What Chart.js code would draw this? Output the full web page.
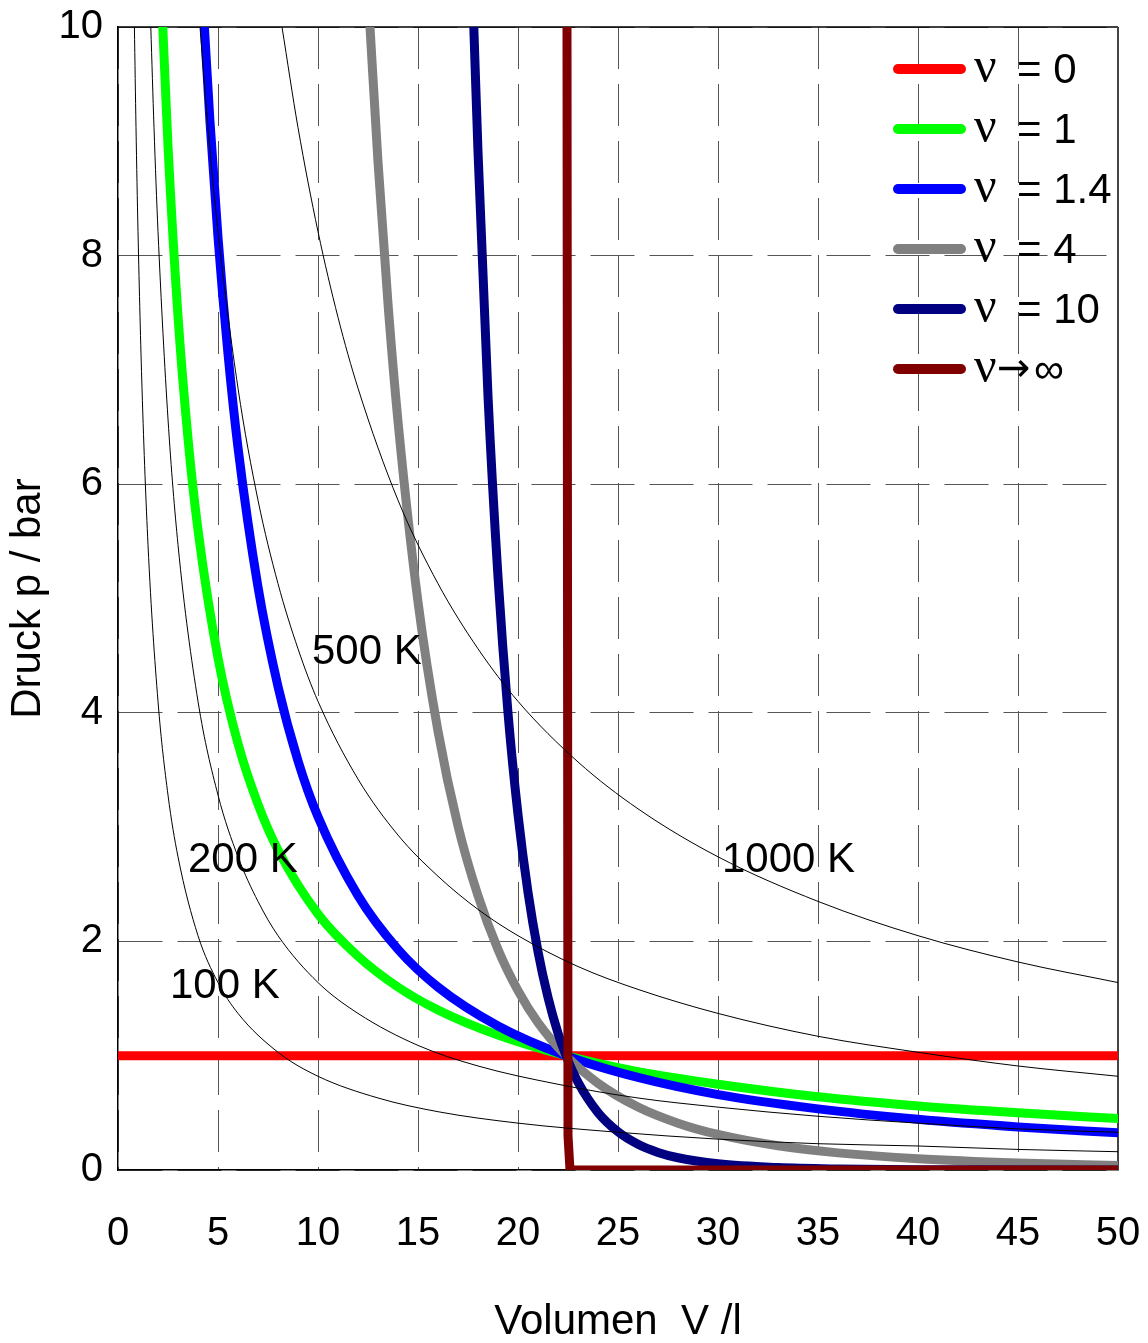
<!DOCTYPE html>
<html>
<head>
<meta charset="utf-8">
<script src="https://cdn.jsdelivr.net/npm/chart.js@4.4.1/dist/chart.umd.min.js"></script>
<style>
  html, body { margin: 0; padding: 0; background: #fff; }
</style>
</head>
<body>
<canvas id="myChart" width="1148" height="1343"></canvas>
<script>
// volumes in l, pressures in bar

// polytropes p * V^nu = const, through (22.4 l, 1 bar)
var nu0V = [0, 50];
var nu0P = [1, 1];

var nu1V = [2.24, 2.5, 3, 3.5, 4, 5, 6, 7, 8, 10, 12, 14, 16, 19, 22.4, 26, 30, 35, 40, 45, 50];
var nu1P = [10.0, 8.96, 7.47, 6.40, 5.60, 4.48, 3.73, 3.20, 2.80, 2.24, 1.87, 1.60, 1.40, 1.18, 1.00, 0.86, 0.75, 0.64, 0.56, 0.50, 0.45];

var nu14V = [4.32, 4.6, 5, 5.5, 6, 7, 8, 9, 10, 12, 14, 16, 19, 22.4, 26, 30, 35, 40, 45, 50];
var nu14P = [10.0, 9.17, 8.16, 7.14, 6.32, 5.10, 4.23, 3.58, 3.09, 2.40, 1.93, 1.60, 1.26, 1.00, 0.81, 0.66, 0.535, 0.444, 0.377, 0.325];

var nu4V = [12.6, 13, 13.5, 14, 15, 16, 17, 18, 19, 20, 21, 22.4, 24, 26, 28, 30, 33, 36, 40, 45, 50];
var nu4P = [10.0, 8.82, 7.58, 6.55, 4.97, 3.84, 3.01, 2.40, 1.93, 1.57, 1.29, 1.00, 0.759, 0.551, 0.41, 0.311, 0.212, 0.150, 0.098, 0.061, 0.040];

var nu10V = [17.79, 18, 18.5, 19, 19.5, 20, 20.5, 21, 21.5, 22, 22.4, 23, 24, 25, 26, 27, 28, 30, 33, 36, 40, 50];
var nu10P = [10.0, 8.91, 6.77, 5.19, 4.00, 3.11, 2.43, 1.91, 1.51, 1.197, 1.00, 0.768, 0.502, 0.334, 0.225, 0.154, 0.107, 0.054, 0.021, 0.0087, 0.003, 0.0003];

var nuInfV = [22.45, 22.5, 22.6, 50];
var nuInfP = [10, 0.3, 0, 0];

// isotherms
var iso100V = [0.82, 0.9, 1, 1.2, 1.5, 2, 2.5, 3, 4, 5, 6, 8, 10, 13, 16, 20, 25, 30, 35, 40, 45, 50];
var iso100P = [10.0, 9.12, 8.21, 6.84, 5.47, 4.10, 3.28, 2.74, 2.05, 1.64, 1.37, 1.03, 0.82, 0.63, 0.51, 0.41, 0.33, 0.27, 0.23, 0.21, 0.18, 0.16];

var iso200V = [1.64, 1.8, 2, 2.5, 3, 4, 5, 6, 7, 8, 10, 12, 15, 18, 22, 26, 30, 35, 40, 45, 50];
var iso200P = [10.0, 9.12, 8.21, 6.57, 5.47, 4.10, 3.28, 2.74, 2.35, 2.05, 1.64, 1.37, 1.09, 0.91, 0.75, 0.63, 0.55, 0.47, 0.41, 0.36, 0.33];

var iso500V = [4.1, 4.5, 5, 6, 7, 8, 9, 10, 12, 14, 16, 18, 20, 23, 26, 30, 35, 40, 45, 50];
var iso500P = [10.0, 9.12, 8.21, 6.84, 5.86, 5.13, 4.56, 4.10, 3.42, 2.93, 2.57, 2.28, 2.05, 1.78, 1.58, 1.37, 1.17, 1.03, 0.91, 0.82];

var iso1000V = [8.2, 9, 10, 11, 12, 14, 16, 18, 20, 23, 26, 30, 35, 40, 45, 50];
var iso1000P = [10.0, 9.12, 8.21, 7.46, 6.84, 5.86, 5.13, 4.56, 4.10, 3.57, 3.16, 2.74, 2.35, 2.05, 1.82, 1.64];

var legendLabels = ["\u03bd  = 0", "\u03bd  = 1", "\u03bd  = 1.4", "\u03bd  = 4", "\u03bd  = 10", "\u03bd\u2192\u221e"];
var isoLabels = ["100 K", "200 K", "500 K", "1000 K"];

var FONT = '"Liberation Sans", Arial, sans-serif';
var SERIF = '"Liberation Serif", "Times New Roman", serif';

function pts(vs, ps) {
  var out = [];
  for (var i = 0; i < vs.length; i++) out.push({ x: vs[i], y: ps[i] });
  return out;
}

function thick(label, vs, ps, color, order, straight) {
  return {
    label: label,
    data: pts(vs, ps),
    borderColor: color,
    backgroundColor: color,
    borderWidth: 9,
    borderCapStyle: "round",
    borderJoinStyle: "round",
    pointRadius: 0,
    cubicInterpolationMode: straight ? "default" : "monotone",
    tension: 0,
    order: order,
    inLegend: true
  };
}

function thin(label, vs, ps) {
  return {
    label: label,
    data: pts(vs, ps),
    borderColor: "#000",
    borderWidth: 1,
    pointRadius: 0,
    cubicInterpolationMode: "monotone",
    order: 0,
    inLegend: false
  };
}

// frame on top and right, legend and curve labels
var framePlugin = {
  id: "frame",
  beforeDatasetsDraw: function (chart) {
    var a = chart.chartArea, ctx = chart.ctx;
    ctx.save();
    ctx.lineWidth = 1.5;
    ctx.strokeStyle = "#000";
    ctx.beginPath();
    ctx.moveTo(a.left, a.top);
    ctx.lineTo(a.right, a.top);
    ctx.stroke();
    ctx.strokeStyle = "#444";
    ctx.lineWidth = 2;
    ctx.beginPath();
    ctx.moveTo(a.right, a.top);
    ctx.lineTo(a.right, a.bottom);
    ctx.stroke();
    ctx.restore();
  },
  afterDatasetsDraw: function (chart) {
    var ctx = chart.ctx;
    var xs = chart.scales.x, ys = chart.scales.y;
    ctx.save();
    ctx.textBaseline = "middle";
    ctx.textAlign = "left";
    ctx.fillStyle = "#000";

    // legend
    var items = chart.data.datasets.filter(function (d) { return d.inLegend; });
    items.forEach(function (d, i) {
      var y = 69 + i * 60;
      ctx.strokeStyle = d.borderColor;
      ctx.lineWidth = 10;
      ctx.lineCap = "round";
      ctx.beginPath();
      ctx.moveTo(898, y);
      ctx.lineTo(961, y);
      ctx.stroke();
      var txt = legendLabels[i];
      ctx.font = "50px " + SERIF;
      ctx.fillText(txt.charAt(0), 974, y);
      var rest = txt.slice(1);
      if (rest.charAt(0) === "\u2192") {
        ctx.font = "40px DejaVu Sans";
        ctx.fillText("\u2192", 997, y + 2);
        ctx.font = "42px " + FONT;
        ctx.fillText(rest.slice(1), 1034, y + 2);
      } else {
        ctx.font = "42px " + FONT;
        ctx.fillText(rest.trim(), 1017, y + 2);
      }
    });

    // isotherm labels
    ctx.font = "42px " + FONT;
    var at = [[2.6, 1.62], [3.5, 2.73], [9.7, 4.55], [30.2, 2.73]];
    isoLabels.forEach(function (t, i) {
      ctx.fillText(t, xs.getPixelForValue(at[i][0]), ys.getPixelForValue(at[i][1]) + 2);
    });
    ctx.restore();
  }
};

var ctx = document.getElementById("myChart").getContext("2d");
var chart = new Chart(ctx, {
  type: "line",
  data: {
    datasets: [
      thick("nu = 0", nu0V, nu0P, "#ff0000", 6, true),
      thick("nu = 1", nu1V, nu1P, "#00ff00", 5),
      thick("nu = 1.4", nu14V, nu14P, "#0000ff", 4),
      thick("nu = 4", nu4V, nu4P, "#808080", 3),
      thick("nu = 10", nu10V, nu10P, "#000080", 2),
      thick("nu -> inf", nuInfV, nuInfP, "#800000", 1, true),
      thin("100 K", iso100V, iso100P),
      thin("200 K", iso200V, iso200P),
      thin("500 K", iso500V, iso500P),
      thin("1000 K", iso1000V, iso1000P)
    ]
  },
  options: {
    responsive: false,
    animation: false,
    devicePixelRatio: 1,
    layout: { padding: { top: 27, right: 30, left: 0, bottom: 0 } },
    plugins: {
      legend: { display: false },
      tooltip: { enabled: false }
    },
    scales: {
      x: {
        type: "linear",
        min: 0,
        max: 50,
        afterFit: function (s) { s.height = 173; },
        ticks: {
          stepSize: 5,
          padding: 0,
          color: "#000",
          font: { family: FONT, size: 40 }
        },
        grid: { color: "#555", lineWidth: 1, drawTicks: true, tickLength: 40, tickColor: "rgba(0,0,0,0)" },
        border: { display: true, color: "#000", width: 1.5, dash: [42, 15] },
        title: {
          display: true,
          text: "Volumen  V /l",
          color: "#000",
          font: { family: FONT, size: 42, lineHeight: 1 },
          padding: { top: 0, bottom: 0 }
        }
      },
      y: {
        type: "linear",
        min: 0,
        max: 10,
        afterFit: function (s) { s.width = 118; },
        ticks: {
          stepSize: 2,
          padding: 0,
          color: "#000",
          font: { family: FONT, size: 40 }
        },
        grid: { color: "#555", lineWidth: 1, drawTicks: true, tickLength: 15, tickColor: "rgba(0,0,0,0)" },
        border: { display: true, color: "#000", width: 1.5, dash: [44, 15] },
        title: {
          display: true,
          text: "Druck p / bar",
          color: "#000",
          font: { family: FONT, size: 42, lineHeight: 1 },
          padding: { top: 7, bottom: 0 }
        }
      }
    }
  },
  plugins: [framePlugin]
});
</script>
</body>
</html>
